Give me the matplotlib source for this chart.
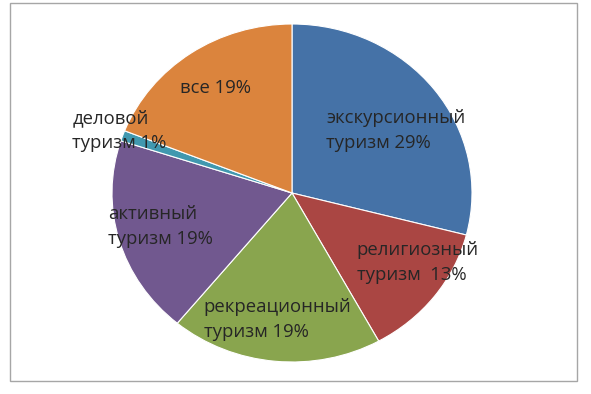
import matplotlib
matplotlib.use('Agg')
import matplotlib.pyplot as plt
import matplotlib.patches as mpatches

# shares of tourism types, clockwise from 12 o'clock
labels = ['экскурсионный\nтуризм 29%', 'религиозный\nтуризм  13%',
          'рекреационный\nтуризм 19%', 'активный\nтуризм 19%',
          'деловой\nтуризм 1%', 'все 19%']
shares = [29, 13, 19, 19, 1, 19]
colors = ['#4572A7', '#AA4643', '#89A54E', '#71588F', '#4198AF', '#DB843D']

# label anchor (left edge, vertical centre) in pie units
label_x = [0.19, 0.36, -0.49, -1.02, -1.22, -0.62]
label_y = [0.37, -0.41, -0.75, -0.20, 0.37, 0.62]

plt.rcParams['font.family'] = ['Open Sans', 'DejaVu Sans']

W, H = 591, 394
fig = plt.figure(figsize=(W/100.0, H/100.0), dpi=100)

# outer frame of the chart area
frame = mpatches.Rectangle((10.0/W, 13.0/H), 567.0/W, 378.0/H, transform=fig.transFigure,
                           fill=False, edgecolor='#a6a6a6', linewidth=1.0)
fig.patches.append(frame)

cx, cy, rx, ry = 292.0, 193.0, 180.0, 169.0
ax = fig.add_axes([(cx - 1.1*rx)/W, (H - cy - 1.1*ry)/H, 2.2*rx/W, 2.2*ry/H])
ax.pie(shares, colors=colors, startangle=90, counterclock=False,
       wedgeprops=dict(edgecolor='white', linewidth=0.8))
ax.set_aspect('auto')
ax.set_xlim(-1.1, 1.1)
ax.set_ylim(-1.1, 1.1)
ax.axis('off')

for lab, x, y in zip(labels, label_x, label_y):
    ax.text(x, y, lab, ha='left', va='center', multialignment='left',
            fontsize=13.3, color='#262626', linespacing=1.5)

fig.savefig('out.png', dpi=100)
